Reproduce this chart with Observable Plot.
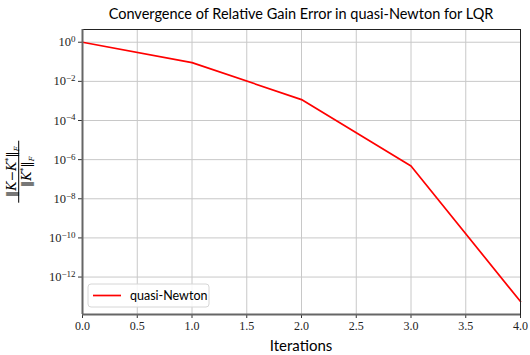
<!DOCTYPE html>
<html><head><meta charset="utf-8">
<script src="https://cdn.jsdelivr.net/npm/d3@7"></script>
<script src="https://cdn.jsdelivr.net/npm/@observablehq/plot@0.6"></script>
<style>body{margin:0;background:#fff}</style>
</head><body><div id="chart"></div>
<script>
const iterations = [0, 1, 2, 3, 4];
const relError = [1.0, 0.091, 1.17e-3, 4.7e-7, 5.6e-14];
const seriesName = "quasi-Newton";
const xTicks = [0, 0.5, 1, 1.5, 2, 2.5, 3, 3.5, 4];
const yTickExponents = [0, -2, -4, -6, -8, -10, -12];
const titleText = "Convergence of Relative Gain Error in quasi-Newton for LQR";
const xLabel = "Iterations";

const data = iterations.map((x, i) => ({x, y: relError[i]}));
const yTicks = yTickExponents.map(e => Math.pow(10, e));
const serif = "'Liberation Serif', 'DejaVu Serif', serif";
const mathSerif = "'DejaVu Serif', 'Liberation Serif', serif";
const sans = "Lato, 'DejaVu Sans', sans-serif";
const gridColor = "#c8c8c8";

const chart = Plot.plot({
  width: 530, height: 355,
  marginLeft: 82, marginRight: 10, marginTop: 29, marginBottom: 41,
  style: {background: "#fff", fontSize: "12px", color: "#000", overflow: "visible"},
  x: {domain: [0, 4]},
  y: {type: "log", domain: [1.22e-14, 4.47]},
  marks: [
    Plot.gridX(xTicks, {stroke: gridColor, strokeOpacity: 1, strokeWidth: 1}),
    Plot.gridY(yTicks, {stroke: gridColor, strokeOpacity: 1, strokeWidth: 1}),
    Plot.axisX(xTicks, {tickFormat: d => d.toFixed(1), label: null, tickSize: 4, tickPadding: 3, fontSize: 12, stroke: "#333"}),
    Plot.axisY(yTicks, {tickFormat: d => "10|" + Math.round(Math.log10(d)), label: null, tickSize: 4, tickPadding: 3, fontSize: 12.5, stroke: "#333"}),
    Plot.line(data, {x: "x", y: "y", stroke: "red", strokeWidth: 1.7}),
    Plot.frame({stroke: "#222", strokeWidth: 1}),
    Plot.ruleX([0], {stroke: "#666", strokeWidth: 2}),
    Plot.ruleY([1.22e-14], {stroke: "#666", strokeWidth: 2})
  ]
});

const svg = d3.select(chart);
svg.selectAll('g[aria-label="x-axis tick label"], g[aria-label="y-axis tick label"]')
  .attr("font-family", serif).style("font-family", serif);
svg.selectAll('g[aria-label="x-axis tick label"] text, g[aria-label="y-axis tick label"] text')
  .style("font-family", serif).attr("fill", "#222");
// superscript exponents on y tick labels
svg.selectAll('g[aria-label="y-axis tick label"] text').each(function() {
  const t = d3.select(this);
  const parts = t.text().split("|");
  t.text(parts[0]);
  t.append("tspan").attr("dy", "-0.45em").attr("font-size", "9px").text(parts[1].replace("-", "\u2212"));
});

// title
svg.append("text").attr("x", 301).attr("y", 19).attr("text-anchor", "middle")
  .style("font-family", sans).attr("font-size", "14.5px").attr("fill", "#000").text(titleText);

// x label
svg.append("text").attr("x", 301).attr("y", 351).attr("text-anchor", "middle")
  .style("font-family", sans).attr("font-size", "15px").attr("fill", "#000").text(xLabel);

// y label as fraction
const yl = svg.append("g").attr("transform", "translate(18.7,171.7) rotate(-90)")
  .style("font-family", mathSerif).attr("font-size", "12.5px").attr("fill", "#000");
yl.append("line").attr("x1", -31).attr("x2", 31).attr("y1", 0).attr("y2", 0).attr("stroke", "#000").attr("stroke-width", 1);
function fracPart(g, y, numerator) {
  const t = g.append("text").attr("x", 0).attr("y", y).attr("text-anchor", "middle");
  t.append("tspan").text("\u2016");
  t.append("tspan").attr("font-style", "italic").text("K");
  if (numerator) {
    t.append("tspan").text("\u2212");
    t.append("tspan").attr("font-style", "italic").text("K");
  }
  t.append("tspan").attr("dy", -5).attr("font-size", "8px").text("*");
  t.append("tspan").attr("dy", 5).text("\u2016");
  t.append("tspan").attr("dy", 3).attr("font-size", "7px").attr("font-style", "italic").text("F");
  return t;
}
fracPart(yl, -3, true);
fracPart(yl, 12, false);

// legend
const lg = svg.append("g");
lg.append("rect").attr("x", 88).attr("y", 284).attr("width", 121).attr("height", 23).attr("rx", 3)
  .attr("fill", "#fff").attr("fill-opacity", 0.85).attr("stroke", "#d6d6d6");
lg.append("line").attr("x1", 93).attr("x2", 121).attr("y1", 295.5).attr("y2", 295.5).attr("stroke", "red").attr("stroke-width", 1.7);
lg.append("text").attr("x", 130).attr("y", 300).attr("text-anchor", "start")
  .style("font-family", sans).attr("font-size", "12.5px").attr("fill", "#000").text(seriesName);

document.getElementById("chart").appendChild(chart);
</script>
</body></html>
